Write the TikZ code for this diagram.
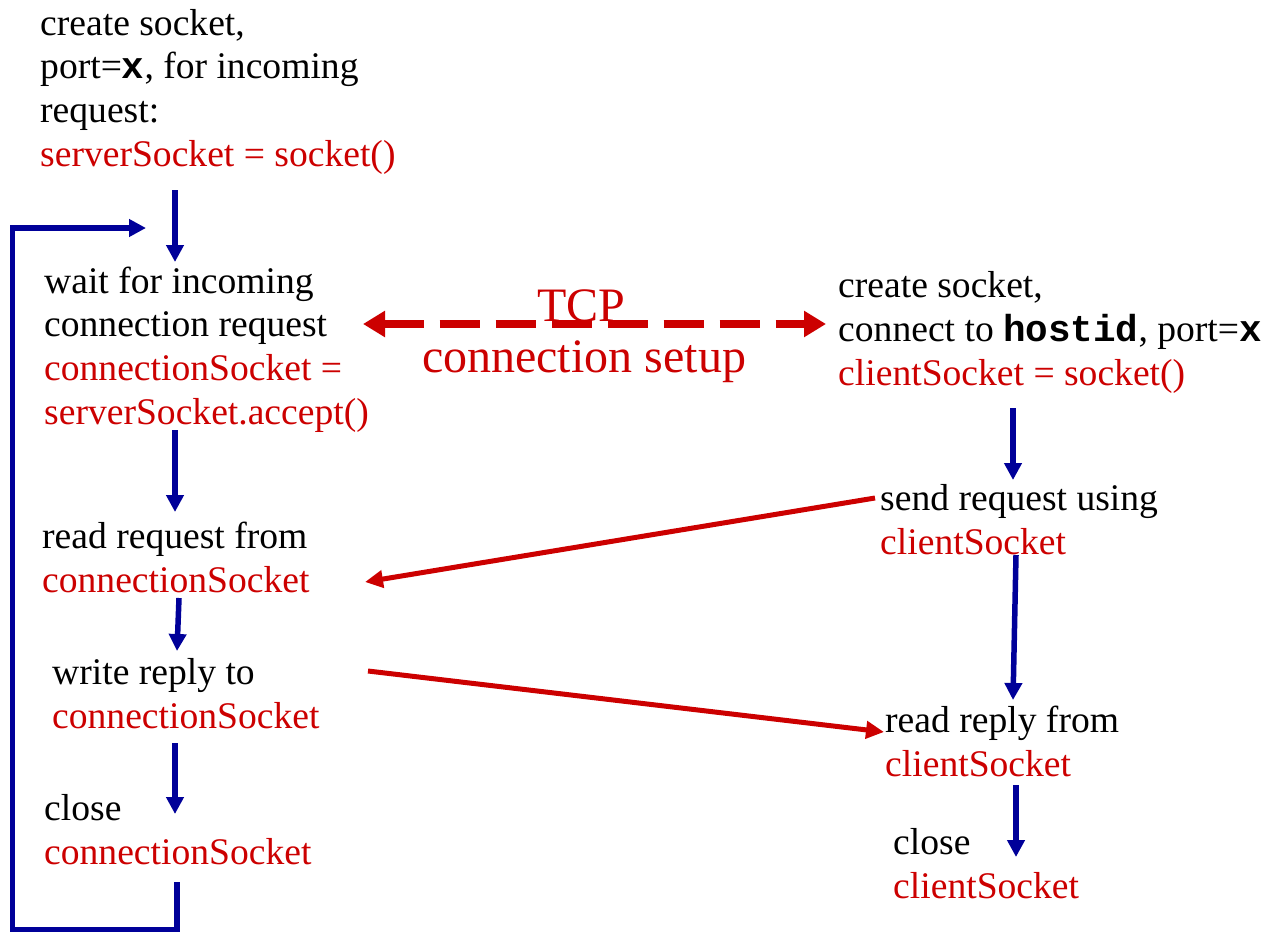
\documentclass[tikz,border=0pt]{standalone}
\usepackage{fontspec}
\setmainfont{Liberation Serif}
\setmonofont{Liberation Mono}
\usetikzlibrary{arrows.meta}
\definecolor{lred}{HTML}{CC0000}
\definecolor{lblue}{HTML}{000099}
\newcommand{\cd}[1]{\texttt{\bfseries #1}}
\begin{document}
\begin{tikzpicture}[x=1pt,y=-1pt,
  txt/.style={anchor=base west, inner sep=0pt, align=left, font=\fontsize{37.6}{43.6}\selectfont},
  flow/.style={draw=lblue, line width=5.5pt, line join=miter, -{Triangle[length=17pt,width=17pt]}},
  msg/.style={draw=lred, line width=5pt, -{Triangle[length=18pt,width=17pt]}},
  setup/.style={draw=lred, line width=8pt, dash pattern=on 40pt off 16pt, {Triangle[length=22pt,width=25pt]}-{Triangle[length=22pt,width=25pt]}}
]
\path[use as bounding box] (0,0) rectangle (1265,931);

% server side (anchor = baseline of last line)
\node[txt] (srvcreate) at (40,166) {create socket,\\port=\cd{x}, for incoming\\request:\\\textcolor{lred}{serverSocket = socket()}};
\node[txt] (srvwait) at (44,424) {wait for incoming\\connection request\\\textcolor{lred}{connectionSocket =}\\\textcolor{lred}{serverSocket.accept()}};
\node[txt] (srvread) at (42,592) {read request from\\\textcolor{lred}{connectionSocket}};
\node[txt] (srvwrite) at (52,728) {write reply to\\\textcolor{lred}{connectionSocket}};
\node[txt] (srvclose) at (44,864) {close\\\textcolor{lred}{connectionSocket}};

% client side
\node[txt] (clicreate) at (838,385) {create socket,\\connect to \cd{hostid}, port=\cd{x}\\\textcolor{lred}{clientSocket = socket()}};
\node[txt] (clisend) at (880,554) {send request using\\\textcolor{lred}{clientSocket}};
\node[txt] (clirecv) at (885,776) {read reply from\\\textcolor{lred}{clientSocket}};
\node[txt] (cliclose) at (893,898) {close\\\textcolor{lred}{clientSocket}};

% TCP label
\node[anchor=base, inner sep=0pt, align=center, text=lred, font=\fontsize{48}{51}\selectfont] (tcp) at (584,372) {TCP\hspace*{5pt}\\connection setup};

% coordinates
\coordinate (a1s) at (175,190); \coordinate (a1e) at (175,262);
\coordinate (a2s) at (175,430); \coordinate (a2e) at (175,512);
\coordinate (a3s) at (179,598); \coordinate (a3e) at (177,651);
\coordinate (a4s) at (175,743); \coordinate (a4e) at (175,814);
\coordinate (b1s) at (1013,408); \coordinate (b1e) at (1013,480);
\coordinate (b2s) at (1016,555); \coordinate (b2e) at (1013,700);
\coordinate (b3s) at (1016,785); \coordinate (b3e) at (1016,857);
\coordinate (loopS) at (177,882); \coordinate (loopE) at (146,228);
\coordinate (tcpL) at (363,324); \coordinate (tcpR) at (826,324);
\coordinate (reqS) at (875,498); \coordinate (reqE) at (365,582);
\coordinate (repS) at (368,671); \coordinate (repE) at (884,732);

% flow arrows
\draw[flow] (a1s) -- (a1e);
\draw[flow] (a2s) -- (a2e);
\draw[flow] (a3s) -- (a3e);
\draw[flow] (a4s) -- (a4e);
\draw[flow] (b1s) -- (b1e);
\draw[flow] (b2s) -- (b2e);
\draw[flow] (b3s) -- (b3e);
\draw[flow] (loopS) -- (177,929.5) -- (12.5,929.5) -- (12.5,228) -- (loopE);

% messages
\draw[setup] (tcpL) -- (tcpR);
\draw[msg] (reqS) -- (reqE);
\draw[msg] (repS) -- (repE);
\end{tikzpicture}
\end{document}
